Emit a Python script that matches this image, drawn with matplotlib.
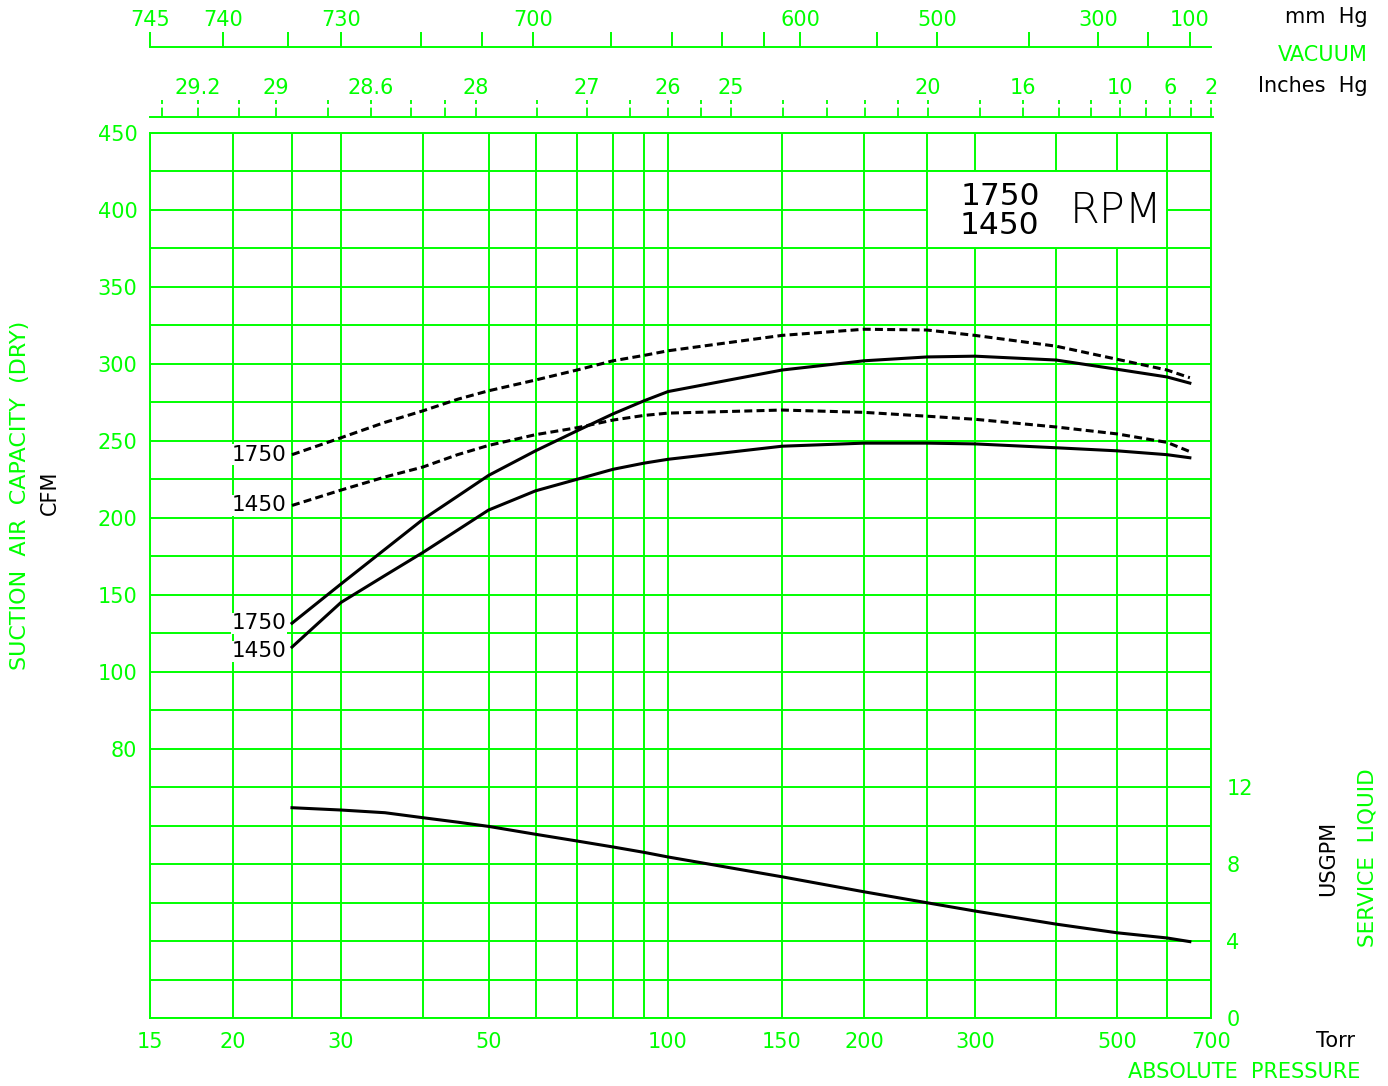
import matplotlib
matplotlib.use("Agg")
import matplotlib.pyplot as plt
from matplotlib.patches import Rectangle
from matplotlib.transforms import blended_transform_factory
import numpy as np

GREEN = "#00ff00"
W, H = 1388, 1086

# absolute pressure (Torr) where the curves were read
torr = [25, 30, 35, 40, 45, 50, 60, 70, 80, 90, 100, 150, 200, 250, 300, 400, 500, 600, 650]

# suction air capacity, CFM
cfm_1750_dash = [241, 252, 262, 269.5, 277, 282.5, 289.5, 296, 302, 305.5, 308.5, 318.5, 322.5, 322, 318.5, 311.5, 303, 296, 291]
cfm_1450_dash = [208, 218, 226.5, 233, 241, 247, 254, 258.5, 263.5, 266.5, 268, 270, 268.5, 266, 264, 259, 254.5, 249, 243]
cfm_1750 = [131.5, 157, 179.5, 199, 214, 227.5, 243.5, 256.5, 267.5, 276, 282, 296, 302, 304.5, 305, 302.5, 296.5, 291.5, 287.5]
cfm_1450 = [116, 145, 162.5, 177.5, 192, 205, 217.5, 225, 231.5, 235.5, 238, 246.5, 248.5, 248.5, 248, 245.5, 243.5, 241, 239]

# service liquid, USGPM
usgpm = [10.93, 10.81, 10.67, 10.41, 10.18, 9.96, 9.55, 9.2, 8.89, 8.61, 8.37, 7.34, 6.56, 5.99, 5.56, 4.88, 4.43, 4.16, 3.97]

# axis ticks
torr_grid = [15, 20, 25, 30, 40, 50, 60, 70, 80, 90, 100, 150, 200, 250, 300, 400, 500, 600, 700]
torr_labels = [15, 20, 30, 50, 100, 150, 200, 300, 500, 700]
cfm_labels = [450, 400, 350, 300, 250, 200, 150, 100]
gpm_ticks = [0, 4, 8, 12]
mm_labeled = [745, 740, 730, 700, 600, 500, 300, 100]
mm_minor = [735, 720, 710, 680, 660, 640, 620, 550, 400, 200]
inch_labeled = [29.2, 29, 28.6, 28, 27, 26, 25, 20, 16, 10, 6, 2]
inch_minor = [29.3, 29.1, 28.8, 28.4, 28.2, 27.5, 26.5, 25.5, 24, 23, 22, 21, 18, 14, 12, 8, 4]


def make_scale(anchor_torr, anchor_px):
    # the printed chart is hand drafted, not a perfect log scale:
    # piecewise map of log(torr) onto the drawing
    lx = np.log10(np.asarray(anchor_torr, float))
    px = np.asarray(anchor_px, float)
    k0 = (px[1] - px[0]) / (lx[1] - lx[0])
    k1 = (px[-1] - px[-2]) / (lx[-1] - lx[-2])

    def fwd(t):
        lt = np.log10(np.clip(np.asarray(t, float), 1e-3, None))
        out = np.interp(lt, lx, px)
        out = np.where(lt < lx[0], px[0] + (lt - lx[0]) * k0, out)
        out = np.where(lt > lx[-1], px[-1] + (lt - lx[-1]) * k1, out)
        return out

    def inv(p):
        p = np.asarray(p, float)
        out = np.interp(p, px, lx)
        out = np.where(p < px[0], lx[0] + (p - px[0]) / k0, out)
        out = np.where(p > px[-1], lx[-1] + (p - px[-1]) / k1, out)
        return 10 ** out

    return fwd, inv


bottom_scale = make_scale(torr_grid, [150, 233, 292, 341, 423, 488.5, 535.5, 577, 613, 644, 668,
                                      782, 864, 927, 975, 1056, 1117, 1167, 1211])
mm_scale = make_scale([760 - v for v in mm_labeled], [150, 223, 341, 533, 800, 937, 1098, 1190])
inch_scale = make_scale([15] + [760 - v * 25.4 for v in inch_labeled],
                        [150, 198, 276, 371, 476, 587, 668, 731, 928, 1023, 1120, 1170, 1211])


def fx(px):
    return px / W


def fy(py):
    return 1 - py / H


plt.rcParams['font.family'] = ['DejaVu Sans']
fig = plt.figure(figsize=(13.88, 10.86), dpi=100)
fig.patch.set_facecolor("white")

ax = fig.add_axes([fx(150), fy(1018), fx(1211) - fx(150), fy(133) - fy(1018)])
ax.set_xscale('function', functions=bottom_scale)
ax.set_xlim(15, 700)
ax.set_ylim(-125, 450)
ax.set_xticks(torr_grid)
ax.set_xticklabels([str(v) if v in torr_labels else "" for v in torr_grid])
ax.xaxis.set_minor_locator(matplotlib.ticker.NullLocator())
yt = np.arange(-125, 451, 25)
ax.set_yticks(yt)
ax.set_yticklabels([str(v) if v in cfm_labels else ("80" if v == 50 else "") for v in yt])
ax.grid(True, color=GREEN, linewidth=1.4)
ax.tick_params(length=0, labelcolor=GREEN, labelsize=15)
ax.tick_params(axis='x', pad=10)
ax.tick_params(axis='y', pad=9)
for s in ax.spines.values():
    s.set_color(GREEN)
    s.set_linewidth(1.4)

ax.plot(torr, cfm_1750_dash, color="black", lw=2.2, ls=(0, (2.6, 1.4)), zorder=3)
ax.plot(torr, cfm_1450_dash, color="black", lw=2.2, ls=(0, (2.6, 1.4)), zorder=3)
ax.plot(torr, cfm_1750, color="black", lw=2.2, zorder=3)
ax.plot(torr, cfm_1450, color="black", lw=2.2, zorder=3)

for vals, name, dy in [(cfm_1750_dash, "1750", 0), (cfm_1450_dash, "1450", 0),
                       (cfm_1750, "1750", 0), (cfm_1450, "1450", -3)]:
    ax.annotate(name, xy=(torr[0], vals[0]), xytext=(-4, dy), textcoords='offset points',
                ha='right', va='center', fontsize=15.5, color='black',
                bbox=dict(fc='white', ec='none', pad=0.3), zorder=4)

# RPM legend box
ax.add_patch(Rectangle((250, 375), 350, 50, fc='white', ec=GREEN, lw=1.4, zorder=2.5))
ax.text(0.801, 0.928, "1750", transform=ax.transAxes, ha='center', va='center',
        fontsize=22.5, color='black', zorder=4)
ax.text(0.801, 0.895, "1450", transform=ax.transAxes, ha='center', va='center',
        fontsize=22.5, color='black', zorder=4)
ax.text(0.9105, 0.912, "RPM", transform=ax.transAxes, ha='center', va='center',
        fontsize=31, fontweight='light', color='black', zorder=4)

ax2 = ax.twinx()
ax2.set_ylim(0, 46)
ax2.set_yticks(gpm_ticks)
ax2.tick_params(length=0, labelcolor=GREEN, labelsize=15, pad=11)
for s in ax2.spines.values():
    s.set_visible(False)
ax2.plot(torr, usgpm, color="black", lw=2.2, zorder=3)

# vacuum, mm Hg
axm = fig.add_axes([fx(150), fy(47), fx(1211) - fx(150), (47 - 32) / H])
axm.set_xscale('function', functions=mm_scale)
axm.set_xlim(float(mm_scale[1](150)), float(mm_scale[1](1211)))
axm.set_yticks([])
axm.patch.set_alpha(0)
for k in ['left', 'right', 'top']:
    axm.spines[k].set_visible(False)
axm.spines['bottom'].set_color(GREEN)
axm.spines['bottom'].set_linewidth(1.4)
mm_all = mm_labeled + mm_minor
axm.set_xticks([760 - v for v in mm_all])
axm.set_xticklabels([str(v) if v in mm_labeled else "" for v in mm_all])
axm.xaxis.set_minor_locator(matplotlib.ticker.NullLocator())
axm.tick_params(axis='x', direction='in', length=10.8, width=1.4, color=GREEN,
                labelcolor=GREEN, labelsize=15, bottom=True, top=False,
                labelbottom=False, labeltop=True, pad=1.5)

# vacuum, inches Hg
axi = fig.add_axes([fx(150), fy(117), fx(1213) - fx(150), (117 - 100) / H])
axi.set_xscale('function', functions=inch_scale)
axi.set_xlim(float(inch_scale[1](150)), float(inch_scale[1](1213)))
axi.set_yticks([])
axi.set_ylim(0, 1)
axi.patch.set_alpha(0)
for k in ['left', 'right', 'top']:
    axi.spines[k].set_visible(False)
axi.spines['bottom'].set_color(GREEN)
axi.spines['bottom'].set_linewidth(1.4)
axi.set_xticks([760 - v * 25.4 for v in inch_labeled])
axi.set_xticklabels([f"{v:g}" for v in inch_labeled])
axi.xaxis.set_minor_locator(matplotlib.ticker.NullLocator())
axi.tick_params(axis='x', length=0, labelcolor=GREEN, labelsize=15,
                bottom=False, labelbottom=False, labeltop=True, pad=1.5)
trans = blended_transform_factory(axi.transData, axi.transAxes)
axi.vlines([760 - v * 25.4 for v in inch_labeled + inch_minor], 0, 1, transform=trans,
           colors=GREEN, linewidth=1.3, linestyles=[(0, (5.2, 2.0, 3.3, 10))])

# axis titles
fig.text(fx(1368), fy(17), "mm  Hg", ha='right', va='center', fontsize=15, color='black')
fig.text(fx(1368), fy(55), "VACUUM", ha='right', va='center', fontsize=15, color=GREEN)
fig.text(fx(1368), fy(86), "Inches  Hg", ha='right', va='center', fontsize=15, color='black')
fig.text(fx(1335), fy(1041), "Torr", ha='center', va='center', fontsize=15, color='black')
fig.text(fx(1360), fy(1072), "ABSOLUTE  PRESSURE", ha='right', va='center', fontsize=15, color=GREEN)
fig.text(fx(20), fy(495), "SUCTION  AIR  CAPACITY  (DRY)", ha='center', va='center',
         rotation=90, fontsize=16, color=GREEN)
fig.text(fx(50), fy(493), "CFM", ha='center', va='center', rotation=90, fontsize=15, color='black')
fig.text(fx(1328), fy(858), "USGPM", ha='center', va='center', rotation=90, fontsize=15, color='black')
fig.text(fx(1367), fy(858), "SERVICE  LIQUID", ha='center', va='center', rotation=90,
         fontsize=15.5, color=GREEN)

fig.savefig("out.png", dpi=100)
